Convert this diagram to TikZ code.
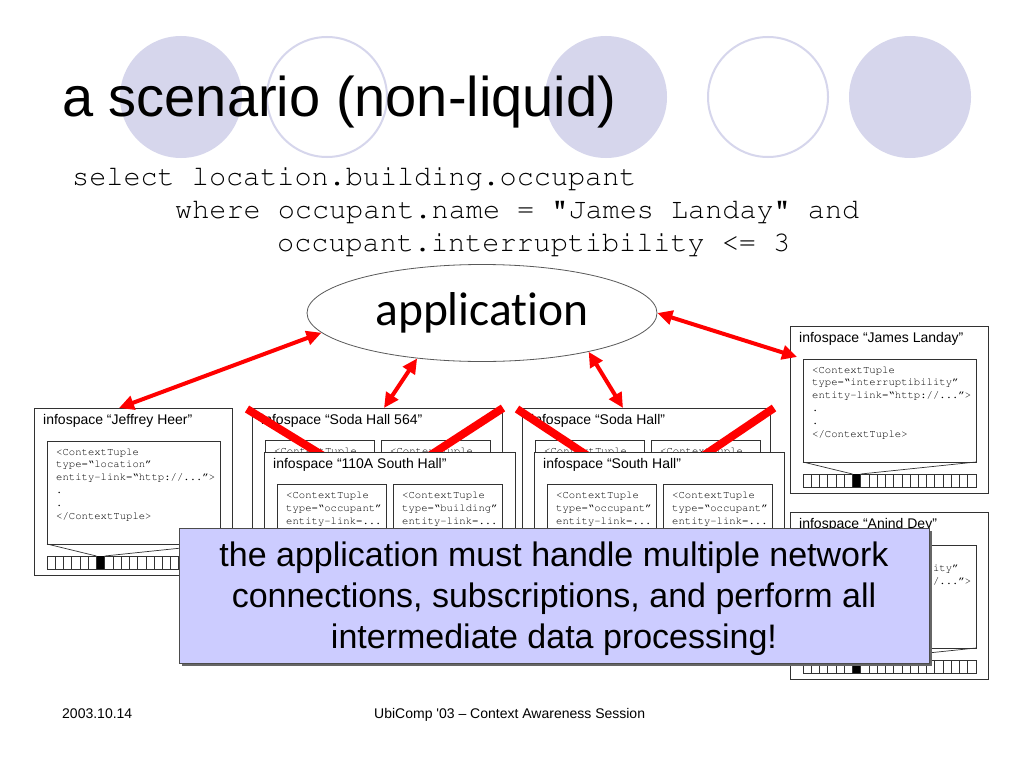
\documentclass[tikz,border=0pt]{standalone}
\usepackage[T1]{fontenc}
\usepackage{fontspec}
\setmainfont{Liberation Sans}[Ligatures=TeXOff]
\newfontfamily\calf{Carlito}[Ligatures=NoCommon]
\newcommand{\cour}{\fontencoding{T1}\fontfamily{pcr}\fontseries{m}\fontshape{n}}
\usetikzlibrary{arrows.meta,shapes.geometric,calc,shadows}

\definecolor{lav}{RGB}{214,214,236}
\definecolor{notefill}{RGB}{204,204,255}
\definecolor{boxline}{RGB}{50,50,50}

\tikzset{
  box/.style={rectangle, draw=boxline, line width=0.9pt, fill=white, inner sep=0pt, outer sep=0pt, anchor=north west},
  ttext/.style={anchor=base west, inner sep=0pt, font=\cour\fontsize{10.6}{12}\selectfont},
  qtext/.style={anchor=base west, inner sep=0pt, text=black, font=\cour\fontsize{28.5}{33}\selectfont},
  boxtitle/.style={anchor=base west, inner sep=0pt, font=\fontsize{14}{16}\selectfont},
  cellline/.style={draw=boxline, line width=0.7pt},
  rarrow/.style={draw=red, line width=4pt, {Triangle[length=15pt,width=14pt]}-{Triangle[length=15pt,width=14pt]}},
  zline/.style={draw=red, line width=8pt},
  plain/.style={anchor=base west, inner sep=0pt},
  ring/.style={draw=lav, line width=2pt, fill=white},
  disc/.style={fill=lav}
}

\newcommand{\qopen}{\textquotedblleft}
\newcommand{\qclose}{\textquotedblright}

% one line of tuple text: box name, box x, box y, line no, text
\newcommand{\tupleline}[5]{%
  \node[ttext] (#1-#4) at ({#2+9},{#3+14+12.8*(#4-1)}) {#5};%
}
% strip of cells: name, x, y
\newcommand{\cellstrip}[3]{%
  \node[box, minimum width=173, minimum height=13] (#1) at (#2,#3) {};
  \coordinate (#1-bl) at ({#2+6*173/21},#3);
  \coordinate (#1-br) at ({#2+7*173/21},#3);
  \fill[black] (#1-bl) rectangle ({#2+7*173/21},{#3+13});
  \foreach \c in {1,...,20} \draw[cellline] ({#2+\c*173/21},#3) -- ({#2+\c*173/21},{#3+13});
}
% single-tuple infospace: name, x, y, title, type
\newcommand{\bigspace}[5]{%
  \node[box, minimum width=198, minimum height=167] (#1) at (#2,#3) {};
  \node[boxtitle] (#1-t) at ({#2+9},{#3+16.5}) {infospace “#4”};
  \node[box, minimum width=173, minimum height=103] (#1-in) at ({#2+13},{#3+33}) {};
  \tupleline{#1-in}{#2+13}{#3+33}{1}{<ContextTuple}
  \tupleline{#1-in}{#2+13}{#3+33}{2}{type=\qopen #5\qclose}
  \tupleline{#1-in}{#2+13}{#3+33}{3}{entity-link=\qopen http://...\qclose>}
  \tupleline{#1-in}{#2+13}{#3+33}{4}{.}
  \tupleline{#1-in}{#2+13}{#3+33}{5}{.}
  \tupleline{#1-in}{#2+13}{#3+33}{6}{</ContextTuple>}
  \cellstrip{#1-s}{#2+13}{#3+148}
  \draw[cellline] (#1-in.south west) -- (#1-s-bl) (#1-in.south east) -- (#1-s-br);
}
% small tuple box: name, x, y, type
\newcommand{\smalltuple}[4]{%
  \node[box, minimum width=109, minimum height=90] (#1) at (#2,#3) {};
  \tupleline{#1}{#2}{#3}{1}{<ContextTuple}
  \tupleline{#1}{#2}{#3}{2}{type=\qopen #4\qclose}
  \tupleline{#1}{#2}{#3}{3}{entity-link=...}
}
% two-tuple infospace: name, x, y, w, title, type1, type2
\newcommand{\multispace}[7]{%
  \node[box, minimum width=#4, minimum height=167] (#1) at (#2,#3) {};
  \node[boxtitle] (#1-t) at ({#2+9},{#3+16.5}) {infospace “#5”};
  \smalltuple{#1-a}{#2+13}{#3+32.5}{#6}
  \smalltuple{#1-b}{#2+129}{#3+32.5}{#7}
}

\begin{document}
\begin{tikzpicture}[x=1pt,y=-1pt]
\useasboundingbox (0,0) rectangle (1024,768);
\fill[white] (0,0) rectangle (1024,768);

% decorative circles
\fill[disc] (181,97) circle[radius=61pt];
\draw[ring] (327,97) circle[radius=60pt];
\fill[disc] (606,97) circle[radius=61pt];
\draw[ring] (768,97) circle[radius=60pt];
\fill[disc] (910,97) circle[radius=61pt];

% title
\node[plain] (title) at (62,116) {\fontsize{56}{60}\selectfont a scenario (non-liquid)};

% query
\node[qtext] (q1) at (72,185) {select location.building.occupant};
\node[qtext] (q2) at (175,218) {where occupant.name = "James Landay" and};
\node[qtext] (q3) at (277,251) {occupant.interruptibility <= 3};

% application
\node[ellipse, draw=black!65, line width=0.8pt, fill=white, minimum width=350, minimum height=97, inner sep=0pt] (app) at (482,313) {\calf\fontsize{47.5}{50}\selectfont application};

% infospaces (back row)
\bigspace{jeff}{34}{408}{Jeffrey Heer}{location}
\multispace{s564}{252}{408}{250}{Soda Hall 564}{occupant}{building}
\multispace{sh}{522}{408}{248}{Soda Hall}{occupant}{occupant}

% reference corners of the front row for the zoom lines
\coordinate (r110nw) at (264,452);
\coordinate (southnw) at (534,452);
\draw[zline] ([xshift=-5pt,yshift=-1pt]s564.north west) -- ([xshift=66pt,yshift=-8pt]r110nw);
\draw[zline] ([xshift=1pt]s564.north east) -- ([xshift=159pt,yshift=-8pt]r110nw);
\draw[zline] ([xshift=-5pt,yshift=-1pt]sh.north west) -- ([xshift=60pt,yshift=-8pt]southnw);
\draw[zline] ([xshift=4pt]sh.north east) -- ([xshift=163pt,yshift=-8pt]southnw);

% infospaces (front row)
\multispace{r110}{264}{452}{251}{110A South Hall}{occupant}{building}
\multispace{south}{534}{452}{250}{South Hall}{occupant}{occupant}

\bigspace{jl}{790}{326}{James Landay}{interruptibility}
\bigspace{ad}{790}{512}{Anind Dey}{interruptibility}

% arrows
\draw[rarrow] (app.187) -- ([xshift=-14pt]jeff.north);
\draw[rarrow] (app.215) -- ([xshift=7pt]s564.north);
\draw[rarrow] (app.340) -- ([xshift=-23pt]sh.north);
\draw[rarrow] (app.east) -- ([xshift=7pt,yshift=-31pt]jl.north west);

% callout
\node[rectangle, draw=black!70, line width=0.8pt, fill=notefill, minimum width=750, minimum height=135, inner sep=0pt,
      drop shadow={shadow xshift=2.5pt, shadow yshift=-2.5pt, fill=black!60, opacity=1}] (note) at (554,595.5) {};
\node[align=center, inner sep=0pt, font=\fontsize{34}{41}\selectfont] (notetext) at (554,598.3)
  {the application must handle multiple network\\connections, subscriptions, and perform all\\intermediate data processing!};

% footer
\node[plain, font=\fontsize{14}{16}\selectfont] (date) at (62,718) {2003.10.14};
\node[plain, font=\fontsize{14}{16}\selectfont] (conf) at (374,718) {UbiComp '03 – Context Awareness Session};
\end{tikzpicture}
\end{document}
